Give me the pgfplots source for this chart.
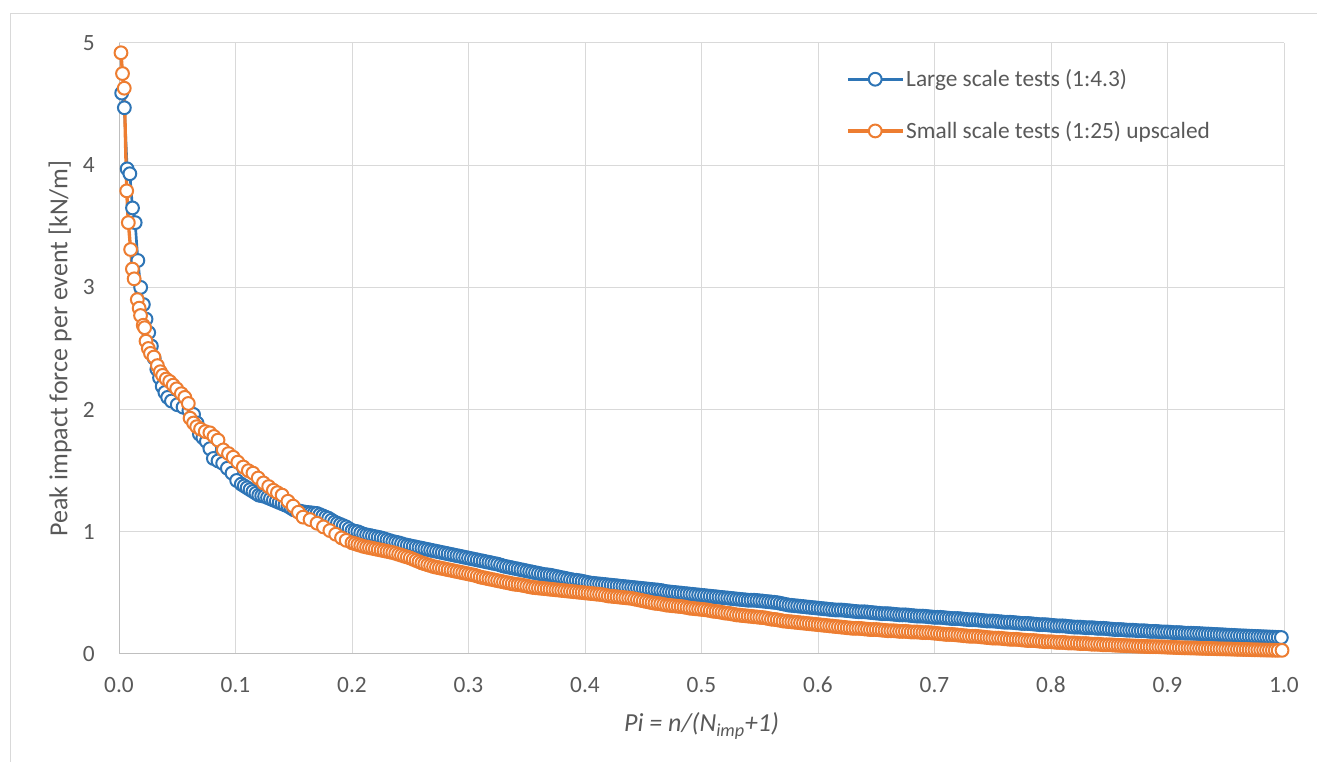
\documentclass[border=0pt]{standalone}
\usepackage{fontspec}
\setmainfont{Carlito}
\usepackage{pgfplots}
\pgfplotsset{compat=1.18}

\definecolor{txtgray}{HTML}{595959}
\definecolor{gridgray}{HTML}{D9D9D9}
\definecolor{axgray}{HTML}{BFBFBF}
\definecolor{xlblue}{HTML}{2E75B6}
\definecolor{xlorange}{HTML}{ED7D31}

\begin{document}
\begin{tikzpicture}
\useasboundingbox (0,0) rectangle (987.75pt,571.5pt);
\draw[gridgray, line width=0.75pt] (7.5pt,0) -- (7.5pt,561pt) -- (987.75pt,561pt);
\begin{axis}[
  at={(89.25pt,81pt)}, anchor=south west,
  scale only axis,
  width=873.75pt, height=458.25pt,
  xmin=0, xmax=1, ymin=0, ymax=5,
  xtick={0,0.1,...,1.0}, ytick={0,1,2,3,4,5},
  axis x line*=bottom, axis y line*=left,
  axis line style={-, draw=axgray, line width=0.75pt},
  grid=major,
  major grid style={draw=gridgray, line width=0.75pt},
  major tick length=0pt,
  clip=false,
  /pgf/number format/assume math mode=true,
  tick label style={font=\fontsize{17.5}{20}\selectfont, text=txtgray, inner sep=0pt},
  xticklabel style={/pgf/number format/fixed, /pgf/number format/fixed zerofill,
    /pgf/number format/precision=1, anchor=north, yshift=-17pt},
  yticklabel style={anchor=east, xshift=-18pt},
  xlabel={\itshape Pi = n/(N\textsubscript{imp}+1)},
  ylabel={Peak impact force per event [kN/m]},
  label style={font=\fontsize{19.5}{22}\selectfont, text=txtgray},
  xlabel style={at={(axis description cs:0.5,0)}, anchor=center, yshift=-54pt},
  ylabel style={at={(axis description cs:0,0.5)}, anchor=center, yshift=44.25pt},
  legend style={at={(rel axis cs:0.624,0.960)}, anchor=north west, draw=none, fill=none,
    font=\fontsize{17.5}{20}\selectfont, text=txtgray, row sep=21.5pt, inner sep=0pt,
    nodes={inner sep=1.5pt}},
  legend cell align=left,
  legend image code/.code={\draw[mark repeat=2,mark phase=2] plot coordinates {(0pt,0pt)(20.5pt,0pt)(41pt,0pt)};},
]
\addplot[xlblue, line width=2pt, mark=*, mark size=4.8pt,
  mark options={fill=white, draw=xlblue, line width=1.5pt}] coordinates {
(0.0023,4.59)(0.0046,4.47)(0.0070,3.97)(0.0093,3.93)(0.0116,3.65)(0.0139,3.53)
(0.0162,3.22)(0.0186,3.00)(0.0209,2.86)(0.0232,2.74)(0.0255,2.63)(0.0278,2.52)
(0.0302,2.42)(0.0325,2.33)(0.0348,2.26)(0.0371,2.19)(0.0394,2.14)(0.0418,2.10)
(0.045,2.07)(0.050,2.04)(0.055,2.02)(0.060,1.99)(0.064,1.96)(0.067,1.89)
(0.069,1.80)(0.072,1.77)(0.075,1.74)(0.078,1.68)(0.081,1.60)(0.085,1.58)
(0.089,1.56)(0.093,1.52)(0.097,1.48)(0.101,1.42)(0.105,1.39)(0.1075,1.375)
(0.110,1.36)(0.1125,1.345)(0.115,1.33)(0.1175,1.315)(0.120,1.30)(0.1225,1.295)
(0.125,1.29)(0.1275,1.28)(0.130,1.27)(0.1325,1.26)(0.135,1.25)(0.1375,1.24)
(0.140,1.23)(0.1425,1.22)(0.145,1.21)(0.1475,1.195)(0.150,1.18)(0.1525,1.175)
(0.155,1.17)(0.1575,1.165)(0.160,1.16)(0.1625,1.158)(0.165,1.155)(0.1675,1.152)
(0.170,1.15)(0.1725,1.14)(0.175,1.13)(0.1775,1.12)(0.180,1.11)(0.1825,1.095)
(0.185,1.08)(0.1875,1.07)(0.190,1.06)(0.1925,1.05)(0.195,1.04)(0.1975,1.025)
(0.200,1.01)(0.2025,1.005)(0.205,1.00)(0.2075,0.99)(0.210,0.98)(0.2125,0.975)
(0.215,0.97)(0.2175,0.965)(0.220,0.96)(0.2225,0.955)(0.225,0.95)(0.2275,0.943)
(0.230,0.935)(0.2325,0.928)(0.235,0.92)(0.2375,0.915)(0.240,0.91)(0.2425,0.903)
(0.245,0.895)(0.2475,0.89)(0.250,0.885)(0.2525,0.88)(0.255,0.875)(0.2575,0.87)
(0.260,0.865)(0.2625,0.86)(0.265,0.855)(0.2675,0.85)(0.270,0.845)(0.2725,0.84)
(0.275,0.835)(0.2775,0.83)(0.280,0.825)(0.2825,0.82)(0.285,0.815)(0.2875,0.81)
(0.290,0.805)(0.2925,0.80)(0.295,0.795)(0.2975,0.79)(0.300,0.785)(0.3025,0.78)
(0.305,0.775)(0.3075,0.77)(0.310,0.765)(0.3125,0.76)(0.315,0.755)(0.3175,0.75)
(0.320,0.745)(0.3225,0.74)(0.325,0.735)(0.3275,0.728)(0.330,0.72)(0.3325,0.715)
(0.335,0.71)(0.3375,0.705)(0.340,0.70)(0.3425,0.695)(0.345,0.69)(0.3475,0.685)
(0.350,0.68)(0.3525,0.675)(0.355,0.67)(0.3575,0.665)(0.360,0.66)(0.3625,0.655)
(0.365,0.65)(0.3675,0.648)(0.370,0.645)(0.3725,0.64)(0.375,0.635)(0.3775,0.63)
(0.380,0.625)(0.3825,0.62)(0.385,0.615)(0.3875,0.61)(0.390,0.605)(0.3925,0.603)
(0.395,0.60)(0.3975,0.595)(0.400,0.59)(0.4025,0.585)(0.405,0.58)(0.4075,0.578)
(0.410,0.575)(0.4125,0.573)(0.415,0.57)(0.4175,0.568)(0.420,0.565)(0.4225,0.563)
(0.425,0.56)(0.4275,0.558)(0.430,0.555)(0.4325,0.553)(0.435,0.55)(0.4375,0.548)
(0.440,0.545)(0.4425,0.543)(0.445,0.54)(0.4475,0.538)(0.450,0.535)(0.4525,0.533)
(0.455,0.53)(0.4575,0.528)(0.460,0.525)(0.4625,0.523)(0.465,0.52)(0.4675,0.515)
(0.470,0.51)(0.4725,0.508)(0.475,0.505)(0.4775,0.503)(0.480,0.50)(0.4825,0.498)
(0.485,0.495)(0.4875,0.493)(0.490,0.49)(0.4925,0.488)(0.495,0.485)(0.4975,0.483)
(0.500,0.48)(0.5025,0.478)(0.505,0.475)(0.5075,0.473)(0.510,0.47)(0.5125,0.468)
(0.515,0.465)(0.5175,0.463)(0.520,0.46)(0.5225,0.458)(0.525,0.455)(0.5275,0.453)
(0.530,0.45)(0.5325,0.448)(0.535,0.445)(0.5375,0.443)(0.540,0.44)(0.5425,0.44)
(0.545,0.44)(0.5475,0.438)(0.550,0.435)(0.5525,0.433)(0.555,0.43)(0.5575,0.428)
(0.560,0.425)(0.5625,0.423)(0.565,0.42)(0.5675,0.415)(0.570,0.41)(0.5725,0.405)
(0.575,0.40)(0.5775,0.398)(0.580,0.395)(0.5825,0.393)(0.585,0.39)(0.5875,0.388)
(0.590,0.385)(0.5925,0.383)(0.595,0.38)(0.5975,0.378)(0.600,0.375)(0.6025,0.373)
(0.605,0.37)(0.6075,0.368)(0.610,0.365)(0.6125,0.363)(0.615,0.36)(0.6175,0.36)
(0.620,0.36)(0.6225,0.358)(0.625,0.355)(0.6275,0.353)(0.630,0.35)(0.6325,0.348)
(0.635,0.345)(0.6375,0.345)(0.640,0.345)(0.6425,0.343)(0.645,0.34)(0.6475,0.338)
(0.650,0.335)(0.6525,0.333)(0.655,0.33)(0.6575,0.33)(0.660,0.33)(0.6625,0.328)
(0.665,0.325)(0.6675,0.323)(0.670,0.32)(0.6725,0.32)(0.675,0.32)(0.6775,0.318)
(0.680,0.315)(0.6825,0.313)(0.685,0.31)(0.6875,0.31)(0.690,0.31)(0.6925,0.308)
(0.695,0.305)(0.6975,0.303)(0.700,0.30)(0.7025,0.30)(0.705,0.30)(0.7075,0.298)
(0.710,0.295)(0.7125,0.293)(0.715,0.29)(0.7175,0.29)(0.720,0.29)(0.7225,0.288)
(0.725,0.285)(0.7275,0.283)(0.730,0.28)(0.7325,0.28)(0.735,0.28)(0.7375,0.278)
(0.740,0.275)(0.7425,0.273)(0.745,0.27)(0.7475,0.27)(0.750,0.27)(0.7525,0.268)
(0.755,0.265)(0.7575,0.263)(0.760,0.26)(0.7625,0.26)(0.765,0.26)(0.7675,0.258)
(0.770,0.255)(0.7725,0.253)(0.775,0.25)(0.7775,0.25)(0.780,0.25)(0.7825,0.248)
(0.785,0.245)(0.7875,0.243)(0.790,0.24)(0.7925,0.24)(0.795,0.24)(0.7975,0.238)
(0.800,0.235)(0.8025,0.233)(0.805,0.23)(0.8075,0.23)(0.810,0.23)(0.8125,0.228)
(0.815,0.225)(0.8175,0.223)(0.820,0.22)(0.8225,0.22)(0.825,0.22)(0.8275,0.218)
(0.830,0.215)(0.8325,0.215)(0.835,0.215)(0.8375,0.213)(0.840,0.21)(0.8425,0.21)
(0.845,0.21)(0.8475,0.208)(0.850,0.205)(0.8525,0.203)(0.855,0.20)(0.8575,0.20)
(0.860,0.20)(0.8625,0.198)(0.865,0.195)(0.8675,0.195)(0.870,0.195)(0.8725,0.193)
(0.875,0.19)(0.8775,0.19)(0.880,0.19)(0.8825,0.188)(0.885,0.185)(0.8875,0.185)
(0.890,0.185)(0.8925,0.183)(0.895,0.18)(0.8975,0.18)(0.900,0.18)(0.9025,0.178)
(0.905,0.175)(0.9075,0.175)(0.910,0.175)(0.9125,0.173)(0.915,0.17)(0.9175,0.17)
(0.920,0.17)(0.9225,0.169)(0.925,0.168)(0.9275,0.167)(0.930,0.165)(0.9325,0.164)
(0.935,0.163)(0.9375,0.162)(0.940,0.16)(0.9425,0.159)(0.945,0.158)(0.9475,0.157)
(0.950,0.155)(0.9525,0.154)(0.955,0.153)(0.9575,0.152)(0.960,0.15)(0.9625,0.149)
(0.965,0.148)(0.9675,0.147)(0.970,0.146)(0.9725,0.145)(0.975,0.144)(0.9775,0.143)
(0.980,0.142)(0.9825,0.141)(0.985,0.14)(0.9875,0.139)(0.990,0.138)(0.9925,0.137)
(0.995,0.136)(0.9977,0.135)
};
\addlegendentry{Large scale tests (1:4.3)}
\addplot[xlorange, line width=2.5pt, mark=*, mark size=4.8pt,
  mark options={fill=white, draw=xlorange, line width=1.5pt}] coordinates {
(0.0017,4.92)(0.0030,4.75)(0.0045,4.63)(0.0066,3.79)(0.0080,3.53)(0.0100,3.31)
(0.0115,3.15)(0.0130,3.07)(0.0157,2.90)(0.0173,2.83)(0.0185,2.77)(0.0208,2.69)
(0.0220,2.67)(0.0232,2.56)(0.0252,2.50)(0.0270,2.46)(0.0300,2.43)(0.0330,2.36)
(0.0355,2.31)(0.0375,2.28)(0.0405,2.25)(0.0435,2.23)(0.0465,2.20)(0.0495,2.17)
(0.0535,2.13)(0.0565,2.10)(0.0595,2.05)(0.0610,1.93)(0.0640,1.89)(0.0667,1.86)
(0.0700,1.84)(0.0740,1.82)(0.0780,1.81)(0.0815,1.78)(0.0850,1.75)(0.0895,1.67)
(0.0940,1.64)(0.0980,1.61)(0.1020,1.57)(0.1067,1.53)(0.1110,1.50)(0.1150,1.48)
(0.1195,1.44)(0.1240,1.40)(0.1285,1.37)(0.1325,1.34)(0.1360,1.32)(0.1400,1.30)
(0.1450,1.25)(0.1495,1.21)(0.1540,1.16)(0.1580,1.12)(0.1640,1.10)(0.1700,1.07)
(0.1755,1.04)(0.1810,1.01)(0.1860,0.98)(0.1910,0.95)(0.1950,0.93)(0.2000,0.91)
(0.2025,0.903)(0.205,0.895)(0.2075,0.888)(0.210,0.88)(0.2125,0.875)(0.215,0.87)
(0.2175,0.865)(0.220,0.86)(0.2225,0.855)(0.225,0.85)(0.2275,0.845)(0.230,0.84)
(0.2325,0.835)(0.235,0.83)(0.2375,0.823)(0.240,0.815)(0.2425,0.808)(0.245,0.80)
(0.2475,0.793)(0.250,0.785)(0.2525,0.775)(0.255,0.765)(0.2575,0.755)(0.260,0.745)
(0.2625,0.738)(0.265,0.73)(0.2675,0.723)(0.270,0.715)(0.2725,0.71)(0.275,0.705)
(0.2775,0.70)(0.280,0.695)(0.2825,0.69)(0.285,0.685)(0.2875,0.68)(0.290,0.675)
(0.2925,0.67)(0.295,0.665)(0.2975,0.66)(0.300,0.655)(0.3025,0.65)(0.305,0.645)
(0.3075,0.638)(0.310,0.63)(0.3125,0.625)(0.315,0.62)(0.3175,0.615)(0.320,0.61)
(0.3225,0.605)(0.325,0.60)(0.3275,0.595)(0.330,0.59)(0.3325,0.585)(0.335,0.58)
(0.3375,0.575)(0.340,0.57)(0.3425,0.568)(0.345,0.565)(0.3475,0.56)(0.350,0.555)
(0.3525,0.55)(0.355,0.545)(0.3575,0.543)(0.360,0.54)(0.3625,0.538)(0.365,0.535)
(0.3675,0.533)(0.370,0.53)(0.3725,0.528)(0.375,0.525)(0.3775,0.523)(0.380,0.52)
(0.3825,0.518)(0.385,0.515)(0.3875,0.513)(0.390,0.51)(0.3925,0.508)(0.395,0.505)
(0.3975,0.503)(0.400,0.50)(0.4025,0.498)(0.405,0.495)(0.4075,0.493)(0.410,0.49)
(0.4125,0.488)(0.415,0.485)(0.4175,0.48)(0.420,0.475)(0.4225,0.473)(0.425,0.47)
(0.4275,0.468)(0.430,0.465)(0.4325,0.463)(0.435,0.46)(0.4375,0.458)(0.440,0.455)
(0.4425,0.45)(0.445,0.445)(0.4475,0.44)(0.450,0.435)(0.4525,0.43)(0.455,0.425)
(0.4575,0.42)(0.460,0.415)(0.4625,0.413)(0.465,0.41)(0.4675,0.405)(0.470,0.40)
(0.4725,0.398)(0.475,0.395)(0.4775,0.393)(0.480,0.39)(0.4825,0.388)(0.485,0.385)
(0.4875,0.38)(0.490,0.375)(0.4925,0.373)(0.495,0.37)(0.4975,0.368)(0.500,0.365)
(0.5025,0.363)(0.505,0.36)(0.5075,0.355)(0.510,0.35)(0.5125,0.348)(0.515,0.345)
(0.5175,0.34)(0.520,0.335)(0.5225,0.333)(0.525,0.33)(0.5275,0.325)(0.530,0.32)
(0.5325,0.318)(0.535,0.315)(0.5375,0.313)(0.540,0.31)(0.5425,0.308)(0.545,0.305)
(0.5475,0.303)(0.550,0.30)(0.5525,0.298)(0.555,0.295)(0.5575,0.29)(0.560,0.285)
(0.5625,0.283)(0.565,0.28)(0.5675,0.275)(0.570,0.27)(0.5725,0.268)(0.575,0.265)
(0.5775,0.263)(0.580,0.26)(0.5825,0.258)(0.585,0.255)(0.5875,0.253)(0.590,0.25)
(0.5925,0.248)(0.595,0.245)(0.5975,0.243)(0.600,0.24)(0.6025,0.238)(0.605,0.235)
(0.6075,0.233)(0.610,0.23)(0.6125,0.228)(0.615,0.225)(0.6175,0.223)(0.620,0.22)
(0.6225,0.218)(0.625,0.215)(0.6275,0.213)(0.630,0.21)(0.6325,0.21)(0.635,0.21)
(0.6375,0.208)(0.640,0.205)(0.6425,0.203)(0.645,0.20)(0.6475,0.20)(0.650,0.20)
(0.6525,0.198)(0.655,0.195)(0.6575,0.193)(0.660,0.19)(0.6625,0.19)(0.665,0.19)
(0.6675,0.188)(0.670,0.185)(0.6725,0.185)(0.675,0.185)(0.6775,0.183)(0.680,0.18)
(0.6825,0.18)(0.685,0.18)(0.6875,0.178)(0.690,0.175)(0.6925,0.175)(0.695,0.175)
(0.6975,0.173)(0.700,0.17)(0.7025,0.168)(0.705,0.165)(0.7075,0.163)(0.710,0.16)
(0.7125,0.16)(0.715,0.16)(0.7175,0.158)(0.720,0.155)(0.7225,0.153)(0.725,0.15)
(0.7275,0.148)(0.730,0.145)(0.7325,0.145)(0.735,0.145)(0.7375,0.143)(0.740,0.14)
(0.7425,0.138)(0.745,0.135)(0.7475,0.133)(0.750,0.13)(0.7525,0.13)(0.755,0.13)
(0.7575,0.128)(0.760,0.125)(0.7625,0.123)(0.765,0.12)(0.7675,0.12)(0.770,0.12)
(0.7725,0.118)(0.775,0.115)(0.7775,0.113)(0.780,0.11)(0.7825,0.11)(0.785,0.11)
(0.7875,0.108)(0.790,0.105)(0.7925,0.103)(0.795,0.10)(0.7975,0.10)(0.800,0.10)
(0.8025,0.098)(0.805,0.095)(0.8075,0.095)(0.810,0.095)(0.8125,0.093)(0.815,0.09)
(0.8175,0.09)(0.820,0.09)(0.8225,0.088)(0.825,0.085)(0.8275,0.085)(0.830,0.085)
(0.8325,0.083)(0.835,0.08)(0.8375,0.08)(0.840,0.08)(0.8425,0.078)(0.845,0.075)
(0.8475,0.075)(0.850,0.075)(0.8525,0.074)(0.855,0.072)(0.8575,0.071)(0.860,0.07)
(0.8625,0.069)(0.865,0.068)(0.8675,0.067)(0.870,0.066)(0.8725,0.065)(0.875,0.064)
(0.8775,0.063)(0.880,0.062)(0.8825,0.061)(0.885,0.06)(0.8875,0.06)(0.890,0.06)
(0.8925,0.059)(0.895,0.058)(0.8975,0.057)(0.900,0.056)(0.9025,0.055)(0.905,0.054)
(0.9075,0.053)(0.910,0.052)(0.9125,0.051)(0.915,0.05)(0.9175,0.05)(0.920,0.049)
(0.9225,0.049)(0.925,0.048)(0.9275,0.047)(0.930,0.046)(0.9325,0.046)(0.935,0.045)
(0.9375,0.045)(0.940,0.044)(0.9425,0.043)(0.945,0.042)(0.9475,0.042)(0.950,0.041)
(0.9525,0.041)(0.955,0.04)(0.9575,0.039)(0.960,0.038)(0.9625,0.038)(0.965,0.037)
(0.9675,0.037)(0.970,0.036)(0.9725,0.035)(0.975,0.034)(0.9775,0.034)(0.980,0.033)
(0.9825,0.033)(0.985,0.032)(0.9875,0.032)(0.990,0.031)(0.9925,0.031)(0.995,0.03)
(0.9983,0.03)
};
\addlegendentry{Small scale tests (1:25) upscaled}
\end{axis}
\end{tikzpicture}
\end{document}
